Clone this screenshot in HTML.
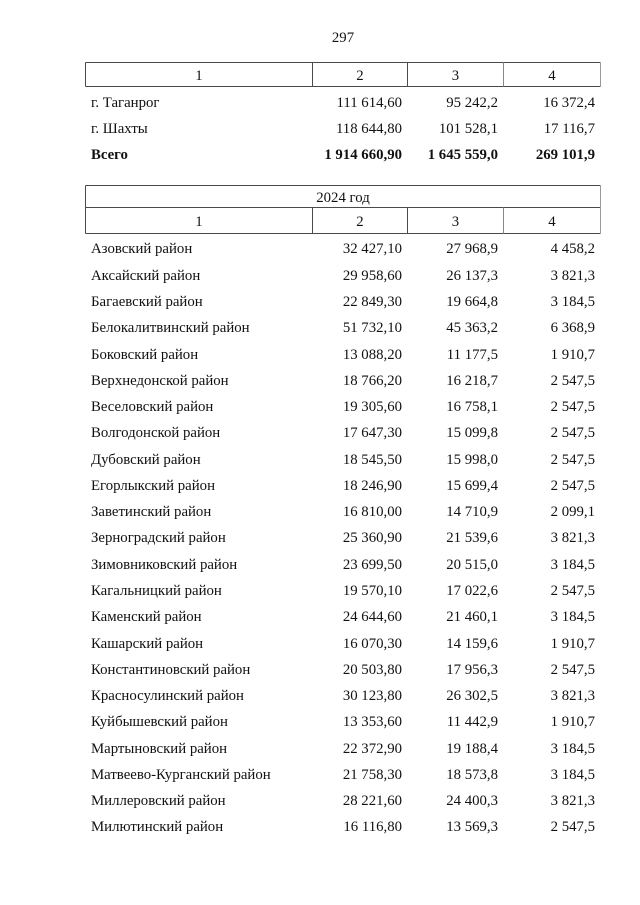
<!DOCTYPE html>
<html>
<head>
<meta charset="utf-8">
<style>
  html,body{margin:0;padding:0;background:#fff;}
  body{width:640px;height:905px;position:relative;overflow:hidden;
       font-family:"Liberation Serif","Times New Roman",serif;font-size:14.8px;color:#111;}
  .t{position:absolute;height:26px;line-height:26px;white-space:nowrap;margin-top:2px;}
  .l{left:91px;}
  .c2{right:238px;text-align:right;}
  .c3{right:142px;text-align:right;}
  .c4{right:45px;text-align:right;}
  .b{font-weight:bold;}
  .ctr{text-align:center;}
  svg{position:absolute;left:0;top:0;}
</style>
</head>
<body>
<svg width="640" height="905">
  <g stroke="#4a4a4a" stroke-width="1" fill="none" shape-rendering="crispEdges">
    <line x1="85.5" y1="62.5" x2="600.5" y2="62.5"/>
    <line x1="85.5" y1="86.5" x2="600.5" y2="86.5"/>
    <line x1="85.5" y1="62.5" x2="85.5" y2="86.5"/>
    <line x1="312.5" y1="62.5" x2="312.5" y2="86.5"/>
    <line x1="407.5" y1="62.5" x2="407.5" y2="86.5"/>
    <line x1="503.5" y1="62.5" x2="503.5" y2="86.5" stroke="#888"/>
    <line x1="600.5" y1="62.5" x2="600.5" y2="86.5" stroke="#999"/>
    <line x1="85.5" y1="185.5" x2="600.5" y2="185.5"/>
    <line x1="85.5" y1="207.5" x2="600.5" y2="207.5"/>
    <line x1="85.5" y1="233.5" x2="600.5" y2="233.5"/>
    <line x1="85.5" y1="185.5" x2="85.5" y2="233.5"/>
    <line x1="600.5" y1="185.5" x2="600.5" y2="233.5" stroke="#999"/>
    <line x1="312.5" y1="207.5" x2="312.5" y2="233.5"/>
    <line x1="407.5" y1="207.5" x2="407.5" y2="233.5"/>
    <line x1="503.5" y1="207.5" x2="503.5" y2="233.5" stroke="#888"/>
  </g>
</svg>

<div class="t ctr" style="left:300px;width:86px;top:23px;">297</div>

<div class="t ctr" style="left:86px;width:226px;top:61px;">1</div>
<div class="t ctr" style="left:313px;width:94px;top:61px;">2</div>
<div class="t ctr" style="left:408px;width:95px;top:61px;">3</div>
<div class="t ctr" style="left:504px;width:96px;top:61px;">4</div>

<div class="t l" style="top:88px;">г. Таганрог</div>
<div class="t c2" style="top:88px;">111 614,60</div>
<div class="t c3" style="top:88px;">95 242,2</div>
<div class="t c4" style="top:88px;">16 372,4</div>

<div class="t l" style="top:114px;">г. Шахты</div>
<div class="t c2" style="top:114px;">118 644,80</div>
<div class="t c3" style="top:114px;">101 528,1</div>
<div class="t c4" style="top:114px;">17 116,7</div>

<div class="t l b" style="top:140px;">Всего</div>
<div class="t c2 b" style="top:140px;">1 914 660,90</div>
<div class="t c3 b" style="top:140px;">1 645 559,0</div>
<div class="t c4 b" style="top:140px;">269 101,9</div>

<div class="t ctr" style="left:86px;width:514px;top:183px;">2024 год</div>
<div class="t ctr" style="left:86px;width:226px;top:207px;">1</div>
<div class="t ctr" style="left:313px;width:94px;top:207px;">2</div>
<div class="t ctr" style="left:408px;width:95px;top:207px;">3</div>
<div class="t ctr" style="left:504px;width:96px;top:207px;">4</div>

<div class="t l" style="top:234.4px;">Азовский район</div><div class="t c2" style="top:234.4px;">32 427,10</div><div class="t c3" style="top:234.4px;">27 968,9</div><div class="t c4" style="top:234.4px;">4 458,2</div>
<div class="t l" style="top:260.7px;">Аксайский район</div><div class="t c2" style="top:260.7px;">29 958,60</div><div class="t c3" style="top:260.7px;">26 137,3</div><div class="t c4" style="top:260.7px;">3 821,3</div>
<div class="t l" style="top:286.9px;">Багаевский район</div><div class="t c2" style="top:286.9px;">22 849,30</div><div class="t c3" style="top:286.9px;">19 664,8</div><div class="t c4" style="top:286.9px;">3 184,5</div>
<div class="t l" style="top:313.2px;">Белокалитвинский район</div><div class="t c2" style="top:313.2px;">51 732,10</div><div class="t c3" style="top:313.2px;">45 363,2</div><div class="t c4" style="top:313.2px;">6 368,9</div>
<div class="t l" style="top:339.5px;">Боковский район</div><div class="t c2" style="top:339.5px;">13 088,20</div><div class="t c3" style="top:339.5px;">11 177,5</div><div class="t c4" style="top:339.5px;">1 910,7</div>
<div class="t l" style="top:365.8px;">Верхнедонской район</div><div class="t c2" style="top:365.8px;">18 766,20</div><div class="t c3" style="top:365.8px;">16 218,7</div><div class="t c4" style="top:365.8px;">2 547,5</div>
<div class="t l" style="top:392.0px;">Веселовский район</div><div class="t c2" style="top:392.0px;">19 305,60</div><div class="t c3" style="top:392.0px;">16 758,1</div><div class="t c4" style="top:392.0px;">2 547,5</div>
<div class="t l" style="top:418.3px;">Волгодонской район</div><div class="t c2" style="top:418.3px;">17 647,30</div><div class="t c3" style="top:418.3px;">15 099,8</div><div class="t c4" style="top:418.3px;">2 547,5</div>
<div class="t l" style="top:444.6px;">Дубовский район</div><div class="t c2" style="top:444.6px;">18 545,50</div><div class="t c3" style="top:444.6px;">15 998,0</div><div class="t c4" style="top:444.6px;">2 547,5</div>
<div class="t l" style="top:470.8px;">Егорлыкский район</div><div class="t c2" style="top:470.8px;">18 246,90</div><div class="t c3" style="top:470.8px;">15 699,4</div><div class="t c4" style="top:470.8px;">2 547,5</div>
<div class="t l" style="top:497.1px;">Заветинский район</div><div class="t c2" style="top:497.1px;">16 810,00</div><div class="t c3" style="top:497.1px;">14 710,9</div><div class="t c4" style="top:497.1px;">2 099,1</div>
<div class="t l" style="top:523.4px;">Зерноградский район</div><div class="t c2" style="top:523.4px;">25 360,90</div><div class="t c3" style="top:523.4px;">21 539,6</div><div class="t c4" style="top:523.4px;">3 821,3</div>
<div class="t l" style="top:549.6px;">Зимовниковский район</div><div class="t c2" style="top:549.6px;">23 699,50</div><div class="t c3" style="top:549.6px;">20 515,0</div><div class="t c4" style="top:549.6px;">3 184,5</div>
<div class="t l" style="top:575.9px;">Кагальницкий район</div><div class="t c2" style="top:575.9px;">19 570,10</div><div class="t c3" style="top:575.9px;">17 022,6</div><div class="t c4" style="top:575.9px;">2 547,5</div>
<div class="t l" style="top:602.2px;">Каменский район</div><div class="t c2" style="top:602.2px;">24 644,60</div><div class="t c3" style="top:602.2px;">21 460,1</div><div class="t c4" style="top:602.2px;">3 184,5</div>
<div class="t l" style="top:628.5px;">Кашарский район</div><div class="t c2" style="top:628.5px;">16 070,30</div><div class="t c3" style="top:628.5px;">14 159,6</div><div class="t c4" style="top:628.5px;">1 910,7</div>
<div class="t l" style="top:654.7px;">Константиновский район</div><div class="t c2" style="top:654.7px;">20 503,80</div><div class="t c3" style="top:654.7px;">17 956,3</div><div class="t c4" style="top:654.7px;">2 547,5</div>
<div class="t l" style="top:681.0px;">Красносулинский район</div><div class="t c2" style="top:681.0px;">30 123,80</div><div class="t c3" style="top:681.0px;">26 302,5</div><div class="t c4" style="top:681.0px;">3 821,3</div>
<div class="t l" style="top:707.3px;">Куйбышевский район</div><div class="t c2" style="top:707.3px;">13 353,60</div><div class="t c3" style="top:707.3px;">11 442,9</div><div class="t c4" style="top:707.3px;">1 910,7</div>
<div class="t l" style="top:733.5px;">Мартыновский район</div><div class="t c2" style="top:733.5px;">22 372,90</div><div class="t c3" style="top:733.5px;">19 188,4</div><div class="t c4" style="top:733.5px;">3 184,5</div>
<div class="t l" style="top:759.8px;">Матвеево-Курганский район</div><div class="t c2" style="top:759.8px;">21 758,30</div><div class="t c3" style="top:759.8px;">18 573,8</div><div class="t c4" style="top:759.8px;">3 184,5</div>
<div class="t l" style="top:786.1px;">Миллеровский район</div><div class="t c2" style="top:786.1px;">28 221,60</div><div class="t c3" style="top:786.1px;">24 400,3</div><div class="t c4" style="top:786.1px;">3 821,3</div>
<div class="t l" style="top:812.3px;">Милютинский район</div><div class="t c2" style="top:812.3px;">16 116,80</div><div class="t c3" style="top:812.3px;">13 569,3</div><div class="t c4" style="top:812.3px;">2 547,5</div>
</body>
</html>
